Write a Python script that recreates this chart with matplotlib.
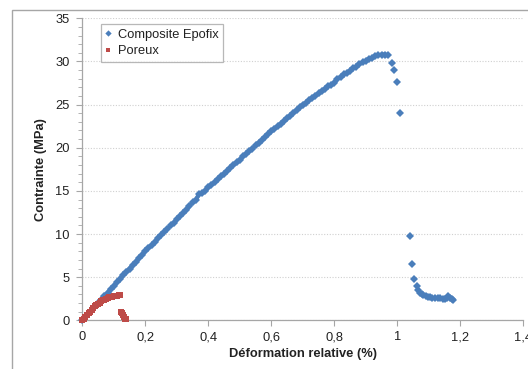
import numpy as np
import matplotlib
matplotlib.use('Agg')
import matplotlib.pyplot as plt
from matplotlib.ticker import MultipleLocator, FuncFormatter
from matplotlib.patches import Rectangle

plt.rcParams['font.family'] = ['Liberation Sans', 'DejaVu Sans']

# Composite Epofix - deformation (%) / stress (MPa)
epofix_x = [0.00, 0.01, 0.02, 0.03, 0.04, 0.05, 0.06, 0.07, 0.08, 0.09,
            0.10, 0.11, 0.12, 0.13, 0.14, 0.15, 0.16, 0.17, 0.18, 0.19,
            0.20, 0.21, 0.22, 0.23, 0.24, 0.25, 0.26, 0.27, 0.28, 0.29,
            0.30, 0.31, 0.32, 0.33, 0.34, 0.35, 0.36, 0.37, 0.38, 0.39,
            0.40, 0.41, 0.42, 0.43, 0.44, 0.45, 0.46, 0.47, 0.48, 0.49,
            0.50, 0.51, 0.52, 0.53, 0.54, 0.55, 0.56, 0.57, 0.58, 0.59,
            0.60, 0.61, 0.62, 0.63, 0.64, 0.65, 0.66, 0.67, 0.68, 0.69,
            0.70, 0.71, 0.72, 0.73, 0.74, 0.75, 0.76, 0.77, 0.78, 0.79,
            0.80, 0.81, 0.82, 0.83, 0.84, 0.85, 0.86, 0.87, 0.88, 0.89,
            0.90, 0.91, 0.92, 0.93, 0.94, 0.95, 0.96, 0.97,
            0.982, 0.990, 0.998, 1.009, 1.040, 1.048, 1.054, 1.062, 1.067,
            1.072, 1.078, 1.083, 1.090, 1.097, 1.104, 1.110, 1.120, 1.128,
            1.136, 1.144, 1.151, 1.157, 1.162, 1.168, 1.173, 1.178]
epofix_y = [0.0, 0.4, 0.8, 1.2, 1.6, 2.0, 2.4, 2.8, 3.2, 3.6,
            4.0, 4.4, 4.8, 5.2, 5.6, 6.0, 6.4, 6.8, 7.2, 7.6,
            8.0, 8.4, 8.7, 9.1, 9.5, 9.9, 10.2, 10.6, 11.0, 11.3,
            11.7, 12.1, 12.4, 12.8, 13.2, 13.7, 13.9, 14.6, 14.7, 15.0,
            15.4, 15.7, 16.0, 16.4, 16.7, 17.0, 17.3, 17.7, 18.0, 18.3,
            18.6, 19.0, 19.3, 19.6, 19.9, 20.3, 20.6, 20.9, 21.2, 21.6,
            21.9, 22.2, 22.5, 22.8, 23.1, 23.4, 23.7, 24.0, 24.4, 24.7,
            25.0, 25.2, 25.5, 25.8, 26.0, 26.3, 26.6, 26.8, 27.1, 27.3,
            27.5, 28.0, 28.2, 28.5, 28.7, 28.9, 29.2, 29.4, 29.7, 29.9,
            30.1, 30.3, 30.4, 30.6, 30.7, 30.8, 30.8, 30.7,
            29.85, 29.0, 27.65, 24.06, 9.77, 6.49, 4.79, 4.0, 3.5,
            3.2, 3.0, 2.93, 2.8, 2.72, 2.66, 2.62, 2.6, 2.57,
            2.55, 2.5, 2.43, 2.6, 2.8, 2.55, 2.45, 2.35]

# Poreux
poreux_x = [0.000, 0.005, 0.010, 0.015, 0.020, 0.025, 0.030, 0.035, 0.040,
            0.045, 0.050, 0.055, 0.060, 0.065, 0.070, 0.075, 0.080, 0.085,
            0.090, 0.095, 0.100, 0.105, 0.110, 0.115, 0.120,
            0.124, 0.126, 0.128, 0.132, 0.136, 0.138]
poreux_y = [0.0, 0.2, 0.4, 0.6, 0.8, 1.0, 1.2, 1.4, 1.6,
            1.75, 1.9, 2.05, 2.2, 2.3, 2.4, 2.5, 2.6, 2.65,
            2.7, 2.75, 2.8, 2.85, 2.85, 2.9, 2.9,
            1.0, 0.8, 0.6, 0.4, 0.2, 0.1]

blue = '#4A7EBB'
red = '#BE4B48'
fs = 9.3
n_cont = 98    # dense part of the epofix record (before rupture)
p_cont = 25

fig = plt.figure(figsize=(5.28, 3.69), dpi=100)
ax = fig.add_axes([82.3/528, 1 - 320.3/369, (523.3 - 82.3)/528, (320.3 - 18.3)/369])

# chart area border (Excel style)
fig.patches.append(Rectangle((11.7/528, -0.5), 2.0, 1.5 - 10.3/369,
                             transform=fig.transFigure, fill=False,
                             edgecolor='#A6A6A6', linewidth=1.0))

# dense records: thick band under the markers
ax.plot(epofix_x[:n_cont], epofix_y[:n_cont], '-', color=blue, lw=3.0,
        solid_capstyle='round', clip_on=False, zorder=3)
ax.plot(poreux_x[:p_cont], poreux_y[:p_cont], '-', color=red, lw=3.6,
        solid_capstyle='round', clip_on=False, zorder=4)

ax.plot(epofix_x, epofix_y, linestyle='none', marker='D', markersize=4.0,
        color=blue, markeredgewidth=0, label='Composite Epofix', clip_on=False, zorder=3)
ax.plot(poreux_x, poreux_y, linestyle='none', marker='s', markersize=3.8,
        color=red, markeredgewidth=0, label='Poreux', clip_on=False, zorder=4)

ax.set_xlim(0, 1.4)
ax.set_ylim(0, 35)
ax.xaxis.set_major_locator(MultipleLocator(0.2))
ax.yaxis.set_major_locator(MultipleLocator(5))
ax.yaxis.set_minor_locator(MultipleLocator(1))
ax.xaxis.set_major_formatter(FuncFormatter(lambda v, p: ('%g' % round(v, 1)).replace('.', ',')))

ax.grid(axis='y', which='major', linestyle=(0, (1, 1.5)), color='#D0D0D0', linewidth=0.8)
ax.set_axisbelow(True)

for s in ['top', 'right']:
    ax.spines[s].set_visible(False)
for s in ['left', 'bottom']:
    ax.spines[s].set_color('#A6A6A6')
    ax.spines[s].set_linewidth(0.9)

ax.tick_params(axis='both', which='both', color='#A6A6A6', direction='out', labelcolor='#222222', labelsize=fs)
ax.tick_params(axis='y', which='major', length=4, pad=5)
ax.tick_params(axis='y', which='minor', length=3)
ax.tick_params(axis='x', which='major', length=4, pad=4)

ax.set_xlabel('Déformation relative (%)', fontsize=fs, fontweight='bold', color='#222222', labelpad=3)
ax.set_ylabel('Contrainte (MPa)', fontsize=fs, fontweight='bold', color='#222222', labelpad=6)

leg = ax.legend(loc='upper left', bbox_to_anchor=(100.7/528, 1 - 24/369),
                bbox_transform=fig.transFigure, fontsize=fs, frameon=True,
                fancybox=False, edgecolor='#A6A6A6', borderaxespad=0,
                handlelength=0.5, handletextpad=0.5, borderpad=0.35,
                labelspacing=0.35, markerscale=0.8)
leg.get_frame().set_linewidth(0.9)
for t in leg.get_texts():
    t.set_color('#222222')

fig.savefig('out.png', dpi=100)
